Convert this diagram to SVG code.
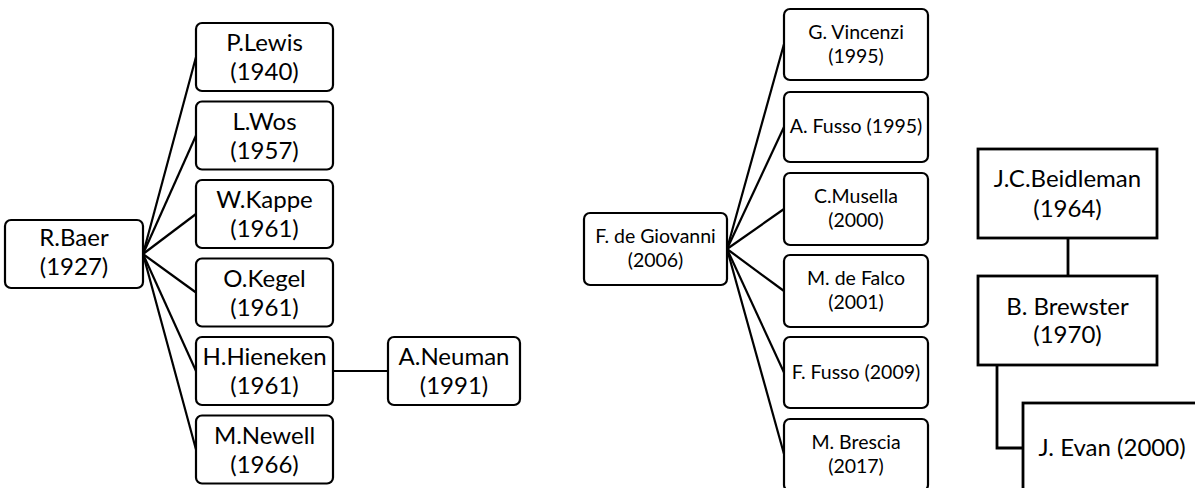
<svg xmlns="http://www.w3.org/2000/svg" width="1195" height="488" viewBox="0 0 1195 488">
<style>
.rb{fill:#fff;stroke:#000;stroke-width:2.2}
.sq{fill:#fff;stroke:#000;stroke-width:2.8}
.ln{stroke:#000;stroke-width:2.2;fill:none}
.ln2{stroke:#000;stroke-width:2.8;fill:none}
text{font-family:Lato,"Liberation Sans",sans-serif;fill:#000;text-anchor:middle}
.t1{font-size:24px}
.t3{font-size:24px}
.t2{font-size:19.5px}
</style>
<rect width="1195" height="488" fill="#fff"/>
<g id="connectors">
<line class="ln" x1="143" y1="254" x2="196" y2="57"/>
<line class="ln" x1="143" y1="254" x2="196" y2="135.5"/>
<line class="ln" x1="143" y1="254" x2="196" y2="214"/>
<line class="ln" x1="143" y1="254" x2="196" y2="292.5"/>
<line class="ln" x1="143" y1="254" x2="196" y2="371"/>
<line class="ln" x1="143" y1="254" x2="196" y2="449.5"/>
<line class="ln" x1="333" y1="371" x2="388" y2="371"/>
<line class="ln" x1="727" y1="249" x2="784" y2="44"/>
<line class="ln" x1="727" y1="249" x2="784" y2="127"/>
<line class="ln" x1="727" y1="249" x2="784" y2="209"/>
<line class="ln" x1="727" y1="249" x2="784" y2="291"/>
<line class="ln" x1="727" y1="249" x2="784" y2="372.5"/>
<line class="ln" x1="727" y1="249" x2="784" y2="454"/>
<line class="ln2" x1="1068" y1="238" x2="1068" y2="276"/>
<polyline class="ln2" points="997,365 997,448 1023,448"/>
</g>
<g id="rbaer"><rect class="rb" x="5" y="220" width="138" height="68" rx="6"/><text class="t1" x="74" y="246">R.Baer</text><text class="t1" x="74" y="275">(1927)</text></g>
<g id="plewis"><rect class="rb" x="196" y="23" width="137" height="68" rx="6"/><text class="t1" x="264.5" y="51">P.Lewis</text><text class="t1" x="264.5" y="80">(1940)</text></g>
<g id="lwos"><rect class="rb" x="196" y="101.5" width="137" height="68" rx="6"/><text class="t1" x="264.5" y="129.5">L.Wos</text><text class="t1" x="264.5" y="158.5">(1957)</text></g>
<g id="wkappe"><rect class="rb" x="196" y="180" width="137" height="68" rx="6"/><text class="t1" x="264.5" y="208">W.Kappe</text><text class="t1" x="264.5" y="237">(1961)</text></g>
<g id="okegel"><rect class="rb" x="196" y="258.5" width="137" height="68" rx="6"/><text class="t1" x="264.5" y="286.5">O.Kegel</text><text class="t1" x="264.5" y="315.5">(1961)</text></g>
<g id="hhieneken"><rect class="rb" x="196" y="337" width="137" height="68" rx="6"/><text class="t1" x="264.5" y="365">H.Hieneken</text><text class="t1" x="264.5" y="394">(1961)</text></g>
<g id="mnewell"><rect class="rb" x="196" y="415.5" width="137" height="68" rx="6"/><text class="t1" x="264.5" y="443.5">M.Newell</text><text class="t1" x="264.5" y="472.5">(1966)</text></g>
<g id="aneuman"><rect class="rb" x="388" y="337" width="132" height="68" rx="6"/><text class="t1" x="454" y="365">A.Neuman</text><text class="t1" x="454" y="394">(1991)</text></g>
<g id="fdegiovanni"><rect class="rb" x="584" y="213" width="143" height="72" rx="6"/><text class="t2" x="655.5" y="243">F. de Giovanni</text><text class="t2" x="655.5" y="267">(2006)</text></g>
<g id="gvincenzi"><rect class="rb" x="784" y="9" width="144" height="71" rx="6"/><text class="t2" x="856" y="39">G. Vincenzi</text><text class="t2" x="856" y="63">(1995)</text></g>
<g id="afusso"><rect class="rb" x="784" y="92" width="144" height="70" rx="6"/><text class="t2" x="856" y="133">A. Fusso (1995)</text></g>
<g id="cmusella"><rect class="rb" x="784" y="173" width="144" height="72" rx="6"/><text class="t2" x="856" y="203">C.Musella</text><text class="t2" x="856" y="227">(2000)</text></g>
<g id="mdefalco"><rect class="rb" x="784" y="255" width="144" height="72" rx="6"/><text class="t2" x="856" y="285">M. de Falco</text><text class="t2" x="856" y="309">(2001)</text></g>
<g id="ffusso"><rect class="rb" x="784" y="337" width="144" height="71" rx="6"/><text class="t2" x="856" y="378.5">F. Fusso (2009)</text></g>
<g id="mbrescia"><rect class="rb" x="784" y="419" width="144" height="72" rx="6"/><text class="t2" x="856" y="449">M. Brescia</text><text class="t2" x="856" y="473">(2017)</text></g>
<g id="jcbeidleman"><rect class="sq" x="978" y="149" width="179" height="89"/><text class="t3" x="1067.5" y="187">J.C.Beidleman</text><text class="t3" x="1067.5" y="217">(1964)</text></g>
<g id="bbrewster"><rect class="sq" x="978" y="276" width="179" height="89"/><text class="t3" x="1067.5" y="315">B. Brewster</text><text class="t3" x="1067.5" y="343">(1970)</text></g>
<g id="jevan"><rect class="sq" x="1023" y="403" width="190" height="100"/><text class="t3" x="1112" y="456">J. Evan (2000)</text></g>
</svg>
